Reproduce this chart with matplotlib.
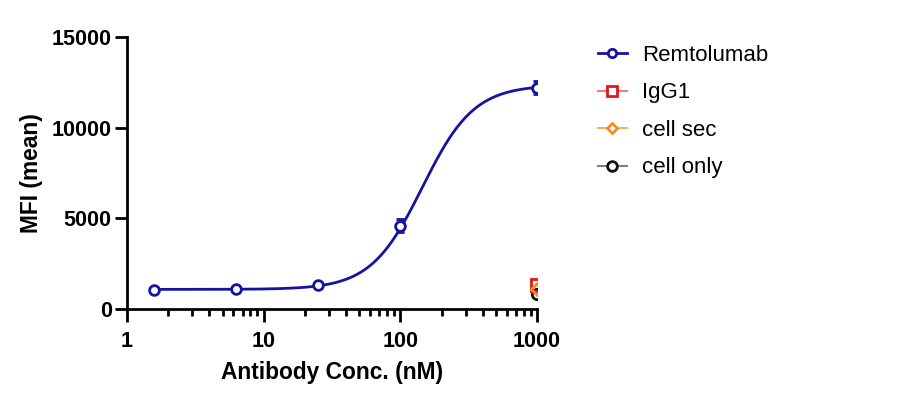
import matplotlib
matplotlib.use("Agg")
import matplotlib.pyplot as plt
import numpy as np

plt.rcParams["font.family"] = ["Liberation Sans", "DejaVu Sans"]

# measured points
conc = [1.5625, 6.25, 25, 100, 1000]
remtolumab = [1050, 1110, 1330, 4600, 12200]
remtolumab_err = [60, 60, 80, 340, 360]

ctrl_conc = [1000]
igg1 = [1320]
cell_sec = [1080]
cell_only = [830]

# 4PL fit parameters (bottom, top, EC50, hill)
fit_bottom = 1080
fit_top = 12350
fit_ec50 = 145
fit_hill = 2.3

blue = "#1414A0"
red = "#E0161B"
orange = "#F0901C"
black = "#111111"

fig = plt.figure(figsize=(8.97, 3.97), dpi=100)
ax = fig.add_axes([0.1416, 0.2217, 0.4571, 0.6853])

xs = np.logspace(np.log10(conc[0]), np.log10(conc[-1]), 300)
ys = fit_bottom + (fit_top - fit_bottom) / (1 + (fit_ec50 / xs) ** fit_hill)
ax.plot(xs, ys, color=blue, lw=2, zorder=3)
ax.errorbar(conc, remtolumab, yerr=remtolumab_err, fmt="o", mfc="white",
            mec=blue, mew=2, ms=7, ecolor=blue, elinewidth=1.3, capsize=3,
            capthick=1.5, zorder=4)

ax.plot(ctrl_conc, igg1, "s", mfc="none", mec=red, mew=2, ms=8, zorder=5)
ax.plot(ctrl_conc, cell_sec, "D", mfc="none", mec=orange, mew=2, ms=6, zorder=6)
ax.plot(ctrl_conc, cell_only, "o", mfc="none", mec=black, mew=2, ms=7.5, zorder=4)

ax.set_xscale("log")
ax.set_xlim(1, 1000)
ax.set_ylim(0, 15000)
ax.set_yticks([0, 5000, 10000, 15000])
ax.set_xticks([1, 10, 100, 1000])
ax.set_xticklabels(["1", "10", "100", "1000"])

for side in ["top", "right"]:
    ax.spines[side].set_visible(False)
for side in ["left", "bottom"]:
    ax.spines[side].set_linewidth(2)
ax.tick_params(which="major", length=9, width=2, labelsize=15.5)
ax.tick_params(axis="x", which="major", pad=7)
ax.tick_params(axis="y", which="major", pad=2)
ax.tick_params(which="minor", length=5, width=2)
for lbl in ax.get_xticklabels() + ax.get_yticklabels():
    lbl.set_fontweight("bold")

ax.set_xlabel("Antibody Conc. (nM)", fontsize=16.4, fontweight="bold", labelpad=6)
ax.set_ylabel("MFI (mean)", fontsize=16.4, fontweight="bold", labelpad=6)

# legend
handles = [
    plt.Line2D([], [], color=blue, lw=2, marker="o", mfc="white", mec=blue, mew=2, ms=6),
    plt.Line2D([], [], color="#E88080", lw=1.5, marker="s", mfc="white", mec=red, mew=2, ms=7),
    plt.Line2D([], [], color="#F5B060", lw=1.5, marker="D", mfc="white", mec=orange, mew=2, ms=5.5),
    plt.Line2D([], [], color="#808080", lw=1.5, marker="o", mfc="white", mec=black, mew=2, ms=7),
]
labels = ["Remtolumab", "IgG1", "cell sec", "cell only"]
fig.legend(handles, labels, loc="upper left",
           bbox_to_anchor=(598 / 897, 1 - 45 / 397),
           frameon=False, fontsize=16, handlelength=1.3, labelspacing=0.74,
           handletextpad=0.7, borderpad=0, borderaxespad=0)

fig.savefig("out.png", dpi=100)
